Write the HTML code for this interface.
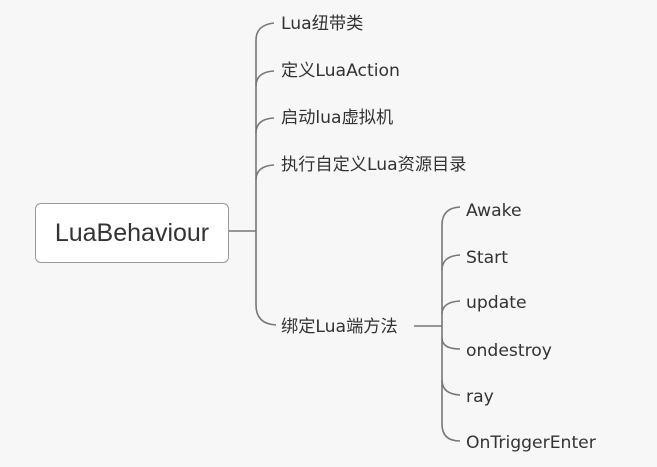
<!DOCTYPE html>
<html><head><meta charset="utf-8"><style>
body{margin:0;width:657px;height:467px;background:#f7f7f7;overflow:hidden;position:relative;font-family:"DejaVu Sans","Noto Sans CJK SC",sans-serif;color:#333}
.t{position:absolute;font-size:17.2px;line-height:20px;white-space:nowrap}
.box{position:absolute;left:35px;top:203px;width:192px;height:58px;border:1.5px solid #999;border-radius:6px;background:#fff;font-family:"Liberation Sans",sans-serif;font-size:25px;line-height:58px;text-align:center;color:#333}
svg{position:absolute;left:0;top:0}
</style></head><body>
<svg width="657" height="467" fill="none" stroke="#777" stroke-width="1.6">
<path d="M229 231 H256"/>
<path d="M256 231 V40 Q256 25 274 23"/>
<path d="M256 86 Q256 72 274 71"/>
<path d="M256 133 Q256 119 274 118"/>
<path d="M256 180 Q256 166 274 165"/>
<path d="M256 231 V305 Q256 324 276 325"/>
<path d="M414 326 H442"/>
<path d="M442 326 V225 Q442 208 460 207"/>
<path d="M442 270 Q442 256 460 255"/>
<path d="M442 314 Q442 302 460 301"/>
<path d="M442 338 Q442 349 460 349"/>
<path d="M442 380 Q442 394 460 395"/>
<path d="M442 326 V424 Q442 441 460 441"/>
</svg>
<div class="box">LuaBehaviour</div>
<div class="t" style="left:281px;top:14px">Lua纽带类</div>
<div class="t" style="left:281px;top:61px">定义LuaAction</div>
<div class="t" style="left:281px;top:108px">启动lua虚拟机</div>
<div class="t" style="left:281px;top:155px">执行自定义Lua资源目录</div>
<div class="t" style="left:281px;top:317px">绑定Lua端方法</div>
<div class="t" style="left:466px;top:201px">Awake</div>
<div class="t" style="left:466px;top:248px">Start</div>
<div class="t" style="left:466px;top:293px">update</div>
<div class="t" style="left:466px;top:341px">ondestroy</div>
<div class="t" style="left:466px;top:387px">ray</div>
<div class="t" style="left:466px;top:433px">OnTriggerEnter</div>
</body></html>
